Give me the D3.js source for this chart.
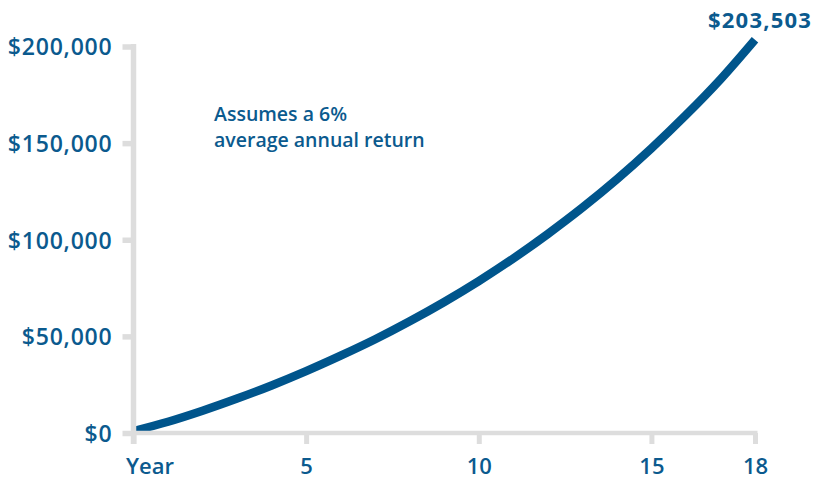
<!DOCTYPE html>
<html>
<head>
<meta charset="utf-8">
<script src="https://cdn.jsdelivr.net/npm/d3@7"></script>
<style>
  html, body { margin: 0; padding: 0; background: #fff; }
  svg { display: block; }
  text { font-family: "Open Sans", "Noto Sans", sans-serif; fill: #0b5a8e; }
</style>
</head>
<body>
<svg id="chart" width="818" height="481"></svg>
<script>
// ---- data ----
const years = [0, 1, 2, 3, 4, 5, 6, 7, 8, 9, 10, 11, 12, 13, 14, 15, 16, 17, 18];
const balances = [1000, 5800, 11500, 17800, 24600, 32000, 40000, 48500, 57800, 67800,
                  78600, 90300, 103000, 116600, 131300, 147300, 164500, 183000, 203503];
const yTickValues = [0, 50000, 100000, 150000, 200000];
const yTickLabels = ["$0", "$50,000", "$100,000", "$150,000", "$200,000"];
const xTickValues = [0, 5, 10, 15, 18];
const xTickLabels = ["Year", "5", "10", "15", "18"];
const endLabel = "$203,503";
const noteLines = ["Assumes a 6%", "average annual return"];

// ---- layout ----
const svg = d3.select("#chart");
const lineColor = "#00558c";
const axisColor = "#dddddd";

const x = d3.scaleLinear().domain([0, 18]).range([133.5, 755]);
const y = d3.scaleLinear().domain([0, 200000]).range([433, 46.5]);

// curve
const data = years.map((yr, i) => ({ yr, v: balances[i] }));
const line = d3.line().x(d => x(d.yr)).y(d => y(d.v)).curve(d3.curveMonotoneX);
svg.append("path")
  .datum(data)
  .attr("d", line)
  .attr("fill", "none")
  .attr("stroke", lineColor)
  .attr("stroke-width", 8.5)
  .attr("stroke-linecap", "butt");

// y axis
const yAxis = d3.axisLeft(y)
  .tickValues(yTickValues)
  .tickFormat((d, i) => yTickLabels[i])
  .tickSize(11)
  .tickPadding(10);
const gy = svg.append("g").attr("transform", `translate(${x(0)},0)`).call(yAxis);
gy.select(".domain").remove();
gy.selectAll(".tick line").attr("stroke", axisColor).attr("stroke-width", 5.5);
gy.selectAll(".tick text")
  .attr("font-size", 23).attr("font-weight", 600)
  .attr("letter-spacing", 0.8)
  .attr("fill", "#0b5a8e")
  .attr("dy", "0.36em");

// x axis
const xAxis = d3.axisBottom(x)
  .tickValues(xTickValues)
  .tickFormat((d, i) => xTickLabels[i])
  .tickSize(11)
  .tickPadding(0);
const gx = svg.append("g").attr("transform", `translate(0,${y(0)})`).call(xAxis);
gx.select(".domain").remove();
gx.selectAll(".tick line").attr("stroke", axisColor).attr("stroke-width", 5);
gx.selectAll(".tick text")
  .attr("font-size", 22).attr("font-weight", 600)
  .attr("fill", "#0b5a8e")
  .attr("y", 41)
  .attr("dy", 0)
  .attr("text-anchor", d => d === 0 ? "start" : "middle")
  .attr("x", d => d === 0 ? -8 : 0);

// axis lines
svg.append("line")
  .attr("x1", x(0)).attr("x2", x(0))
  .attr("y1", y(200000) - 2.5).attr("y2", y(0) + 11)
  .attr("stroke", axisColor).attr("stroke-width", 5.5);
svg.append("line")
  .attr("x1", x(0) - 2.5).attr("x2", x(18) + 2.5)
  .attr("y1", y(0)).attr("y2", y(0))
  .attr("stroke", axisColor).attr("stroke-width", 4.5);

// end label
svg.append("text")
  .attr("x", 812).attr("y", 28)
  .attr("text-anchor", "end")
  .attr("font-size", 22).attr("font-weight", 700)
  .attr("letter-spacing", 1.2)
  .text(endLabel);

// note
const note = svg.append("text")
  .attr("x", 214).attr("y", 121)
  .attr("font-size", 19.5).attr("font-weight", 600);
noteLines.forEach((t, i) => {
  note.append("tspan").attr("x", 214).attr("dy", i === 0 ? 0 : 25.5).text(t);
});
</script>
</body>
</html>
